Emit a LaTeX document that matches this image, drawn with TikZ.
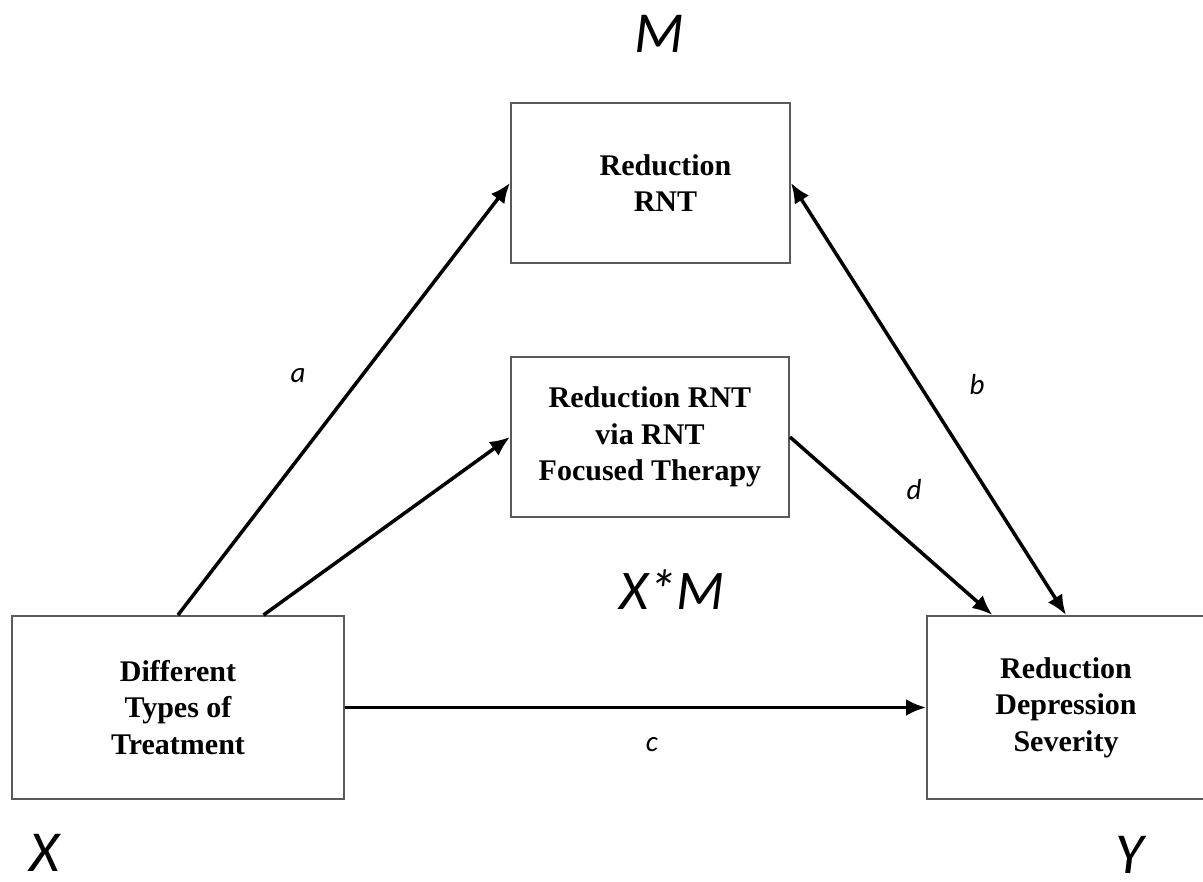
\documentclass[tikz,border=0pt]{standalone}
\usepackage{fontspec}
\setmainfont{Liberation Serif}
\newfontfamily\calibri{Carlito}
\usetikzlibrary{arrows.meta,calc,positioning}
\newcommand{\newBox}[5]{\node[box,minimum width=#4,#5](#1) at #3 {#2};}
\newcommand{\newPath}[3]{\draw[#3] (#1) -- (#2);}
\newcommand{\newLabel}[4]{\node[#4](#1) at #3 {#2};}

\begin{document}
\begin{tikzpicture}[
    % One pixel of the reference is one point
    x=1pt,y=-1pt,
    % Boxes
    box/.style={draw=black!65,line width=2pt,minimum height=160pt,
      font=\fontsize{30}{36.5}\selectfont\bfseries,align=center},
    % Connectors
    path/.style={-{Latex[length=20pt,width=17pt]},line width=3.5pt},
    % Symbols and coefficients
    letter/.style={font=\fontsize{58}{58}\calibri\itshape,inner sep=0pt},
    coef/.style={font=\fontsize{29}{29}\calibri\itshape}
    ]
    \useasboundingbox (0,0) rectangle (1203,882);

    \newBox{top}{}{(650.5,183)}{279pt}{label={[box,draw=none,xshift=15pt]center:{Reduction\\RNT}}}
    \newBox{mid}{Reduction RNT\\via RNT\\Focused Therapy}{(650,437)}{278pt}{}
    \newBox{treat}{Different\\Types of\\Treatment}{(178,707.5)}{332pt}{minimum height=183pt}
    \newBox{outcome}{Reduction\\Depression\\Severity}{(1066,707.5)}{278pt}{minimum height=183pt}

    \newPath{treat.north}{top.west}{path}
    \newPath{$(treat.north west)!0.756!(treat.north east)$}{mid.west}{path}
    \newPath{treat.east}{outcome.west}{path}
    \newPath{mid.east}{$(outcome.north west)!0.237!(outcome.north east)$}{path}
    \newPath{top.east}{outcome.north}{path,{Latex[length=20pt,width=17pt]}-{Latex[length=20pt,width=17pt]}}

    \newLabel{M}{M}{(659,34)}{letter}
    \newLabel{XM}{X*M}{(672,590)}{letter,font=\fontsize{56}{56}\calibri\itshape}
    \newLabel{X}{X}{(45,853)}{letter}
    \newLabel{Y}{Y}{(1130,855)}{letter}

    \newLabel{a}{a}{(298,376)}{coef}
    \newLabel{b}{b}{(977,385)}{coef}
    \newLabel{c}{c}{(652,745)}{coef}
    \newLabel{d}{d}{(914,490)}{coef}
  \end{tikzpicture}
\end{document}
